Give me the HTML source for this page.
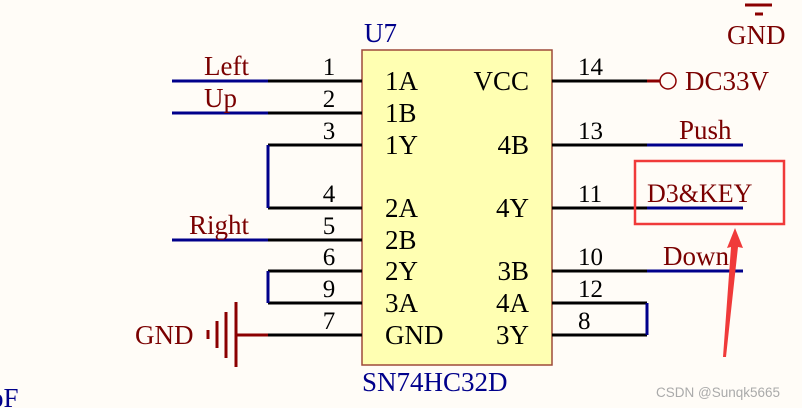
<!DOCTYPE html>
<html><head><meta charset="utf-8"><style>
html,body{margin:0;padding:0;background:#fffcf7;}
svg{display:block;}
text{font-family:"Liberation Serif",serif;}
</style></head><body>
<svg width="802" height="408" viewBox="0 0 802 408" xmlns="http://www.w3.org/2000/svg">
<rect width="802" height="408" fill="#fffcf7"/>
<rect x="362" y="50" width="190" height="315" fill="#ffffb2" stroke="#9e4a3a" stroke-width="1.5"/>
<g stroke="#000" stroke-width="3">
<line x1="268" y1="81" x2="362" y2="81"/>
<line x1="268" y1="113" x2="362" y2="113"/>
<line x1="268" y1="145" x2="362" y2="145"/>
<line x1="268" y1="208" x2="362" y2="208"/>
<line x1="268" y1="240" x2="362" y2="240"/>
<line x1="268" y1="271" x2="362" y2="271"/>
<line x1="268" y1="303" x2="362" y2="303"/>
<line x1="268" y1="335" x2="362" y2="335"/>
<line x1="552" y1="81" x2="647" y2="81"/>
<line x1="552" y1="145" x2="647" y2="145"/>
<line x1="552" y1="208" x2="647" y2="208"/>
<line x1="552" y1="271" x2="647" y2="271"/>
<line x1="552" y1="303" x2="647" y2="303"/>
<line x1="552" y1="335" x2="647" y2="335"/>
</g>
<g stroke="#00008b" stroke-width="3" fill="none">
<line x1="172" y1="81" x2="268" y2="81"/>
<line x1="172" y1="113" x2="268" y2="113"/>
<line x1="172" y1="240" x2="268" y2="240"/>
<line x1="268" y1="145" x2="268" y2="208"/>
<line x1="268" y1="271" x2="268" y2="303"/>
<line x1="647" y1="303" x2="647" y2="335"/>
<line x1="647" y1="145" x2="743" y2="145"/>
<line x1="647" y1="208" x2="743" y2="208"/>
<line x1="647" y1="271" x2="743" y2="271"/>
</g>
<g stroke="#8b0000" stroke-width="3" fill="none">
<line x1="236" y1="335" x2="268" y2="335"/>
<line x1="208" y1="330" x2="208" y2="339"/>
<line x1="217" y1="321" x2="217" y2="348"/>
<line x1="226" y1="312" x2="226" y2="358"/>
<line x1="236" y1="302" x2="236" y2="367"/>
<line x1="647" y1="81" x2="660" y2="81"/>
<line x1="745" y1="5" x2="772" y2="5"/>
<line x1="755" y1="14" x2="763" y2="14"/>
</g>
<circle cx="668" cy="81" r="8" fill="#fffcf7" stroke="#8b0000" stroke-width="1.5"/>
<g font-size="27" fill="#000">
<text x="385" y="90">1A</text><text x="385" y="122">1B</text><text x="385" y="154">1Y</text>
<text x="385" y="217">2A</text><text x="385" y="249">2B</text><text x="385" y="280">2Y</text>
<text x="385" y="312">3A</text><text x="385" y="344">GND</text>
<text x="529" y="90" text-anchor="end">VCC</text><text x="529" y="154" text-anchor="end">4B</text>
<text x="529" y="217" text-anchor="end">4Y</text><text x="529" y="280" text-anchor="end">3B</text>
<text x="529" y="312" text-anchor="end">4A</text><text x="529" y="344" text-anchor="end">3Y</text>
</g>
<g font-size="25" fill="#000">
<text x="329" y="75" text-anchor="middle">1</text><text x="329" y="107" text-anchor="middle">2</text>
<text x="329" y="139" text-anchor="middle">3</text><text x="329" y="202" text-anchor="middle">4</text>
<text x="329" y="234" text-anchor="middle">5</text><text x="329" y="265" text-anchor="middle">6</text>
<text x="329" y="297" text-anchor="middle">9</text><text x="329" y="329" text-anchor="middle">7</text>
<text x="578" y="75">14</text><text x="578" y="139">13</text><text x="578" y="202">11</text>
<text x="578" y="265">10</text><text x="578" y="297">12</text><text x="578" y="329">8</text>
</g>
<g font-size="27" fill="#7a0000">
<text x="204" y="75">Left</text><text x="204" y="107">Up</text><text x="189" y="234">Right</text>
<text x="135" y="344">GND</text>
<text x="685" y="90">DC33V</text>
<text x="679" y="139">Push</text>
<text x="647" y="202" font-size="26">D3&amp;KEY</text>
<text x="663" y="265">Down</text>
<text x="727" y="44">GND</text>
</g>
<g font-size="27" fill="#00008b">
<text x="364" y="42">U7</text>
<text x="362" y="391">SN74HC32D</text>
<text x="-10" y="407">pF</text>
</g>
<rect x="635" y="161" width="149" height="63" fill="none" stroke="#f03a3a" stroke-width="2.5"/>
<polygon points="735,228 743,248 738,247 726,357 723,357 731,247 727,248" fill="#f03a3a"/>
<text x="656" y="397" style="font-family:'Liberation Sans',sans-serif" font-size="13.5" fill="#aaa">CSDN @Sunqk5665</text>
</svg>
</body></html>
